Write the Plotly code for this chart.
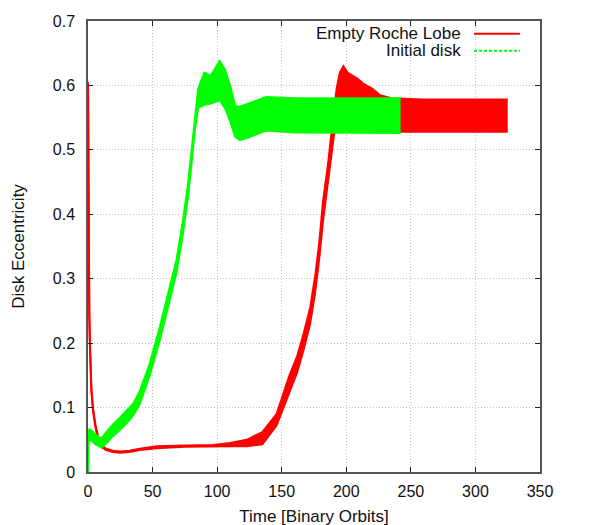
import plotly.graph_objects as go

# Empty Roche Lobe run: time [orbits], lower / upper envelope of the eccentricity
t_red = [0, 0.5, 1, 1.6, 2.6, 4, 5.8, 8, 10.4, 14, 19.4, 25, 32, 40, 53, 75, 97,
         110, 123, 135, 146, 156, 162, 167, 172, 176, 179, 182, 186, 189, 192.5,
         195, 197.7, 201, 205, 209, 213, 220, 226, 235, 260, 290, 325]
lo_red = [0.605, 0.35, 0.24, 0.185, 0.125, 0.093, 0.069, 0.051, 0.039, 0.034, 0.031,
          0.030, 0.031, 0.034, 0.037, 0.039, 0.040, 0.040, 0.040, 0.043, 0.072, 0.125,
          0.155, 0.19, 0.23, 0.28, 0.33, 0.39, 0.455, 0.505, 0.555, 0.54, 0.535, 0.53,
          0.528, 0.528, 0.528, 0.528, 0.528, 0.528, 0.528, 0.528, 0.528]
hi_red = [0.605, 0.36, 0.25, 0.195, 0.131, 0.097, 0.073, 0.054, 0.042, 0.036, 0.033,
          0.032, 0.033, 0.036, 0.040, 0.041, 0.042, 0.045, 0.050, 0.062, 0.09, 0.15,
          0.18, 0.215, 0.255, 0.305, 0.355, 0.42, 0.48, 0.535, 0.595, 0.62, 0.63, 0.62,
          0.615, 0.61, 0.603, 0.595, 0.585, 0.58, 0.578, 0.578, 0.578]

# Initial disk run
t_green = [0, 0.3, 1, 3, 6, 10.4, 15, 19.4, 25, 30, 35, 40, 47.8, 55.6, 63.3, 68.5,
           73.6, 77.5, 80.2, 82.7, 85.3, 90, 95, 102, 106, 110, 114, 117.6, 125, 138,
           160, 200, 242]
lo_green = [0.0, 0.05, 0.05, 0.048, 0.043, 0.038, 0.046, 0.056, 0.066, 0.076, 0.088,
            0.105, 0.15, 0.205, 0.267, 0.309, 0.371, 0.428, 0.479, 0.53, 0.565, 0.57,
            0.572, 0.577, 0.565, 0.545, 0.52, 0.515, 0.52, 0.53, 0.527, 0.526, 0.526]
hi_green = [0.0, 0.062, 0.066, 0.064, 0.058, 0.052, 0.064, 0.074, 0.085, 0.095, 0.106,
            0.125, 0.168, 0.225, 0.287, 0.329, 0.391, 0.448, 0.499, 0.552, 0.595, 0.62,
            0.615, 0.638, 0.625, 0.6, 0.568, 0.567, 0.572, 0.582, 0.58, 0.58, 0.58]

y_ticks = [0, 0.1, 0.2, 0.3, 0.4, 0.5, 0.6, 0.7]
y_labels = ["0", "0.1", "0.2", "0.3", "0.4", "0.5", "0.6", "0.7"]

RED = "#ff0000"
GREEN = "#00ff00"
FONT = "Liberation Sans, Arial, sans-serif"

fig = go.Figure()

# each run: lower edge, then upper edge filled down to it (the oscillation band)
for t, lo, hi, color in [(t_red, lo_red, hi_red, RED),
                         (t_green, lo_green, hi_green, GREEN)]:
    fig.add_trace(go.Scatter(x=t, y=lo, mode="lines", showlegend=False,
                             line=dict(color=color, width=2)))
    fig.add_trace(go.Scatter(x=t, y=hi, mode="lines", showlegend=False,
                             fill="tonexty", fillcolor=color,
                             line=dict(color=color, width=2)))

# gnuplot-style key: text on the left, line sample on the right
key = [("Empty Roche Lobe", RED, "solid", 0.972),
       ("Initial disk", GREEN, "3px,2px", 0.934)]
for label, color, dash, ky in key:
    fig.add_annotation(x=0.829, y=ky, xref="paper", yref="paper", text=label,
                       showarrow=False, xanchor="right", yanchor="middle",
                       font=dict(family=FONT, size=17, color="#111"))
    fig.add_shape(type="line", xref="paper", yref="paper", x0=0.854, x1=0.956,
                  y0=ky, y1=ky, line=dict(color=color, width=2, dash=dash))

axis_style = dict(
    showline=True, linecolor="#555", linewidth=1.5, mirror="ticks",
    ticks="inside", ticklen=5, tickcolor="#222", tickwidth=1,
    showgrid=True, gridcolor="#c4c4c4", griddash="1px,2px", gridwidth=1,
    zeroline=False, automargin=False,
    tickfont=dict(family=FONT, size=16, color="#111"),
)

# page body adds 8px at left/top, margins shifted to compensate
fig.update_layout(
    width=591, height=525, autosize=False,
    margin=dict(l=80, r=59, t=13, b=61),
    plot_bgcolor="white", paper_bgcolor="white",
    showlegend=False,
    xaxis=dict(range=[0, 350], dtick=50, ticklabelstandoff=4,
               title=dict(text="Time [Binary Orbits]", standoff=11,
                          font=dict(family=FONT, size=17, color="#111")),
               **axis_style),
    yaxis=dict(range=[0, 0.7], tickvals=y_ticks, ticktext=y_labels,
               ticklabelstandoff=8,
               title=dict(text="Disk Eccentricity", standoff=24,
                          font=dict(family=FONT, size=17, color="#111")),
               **axis_style),
)

fig.write_html("out.html")
